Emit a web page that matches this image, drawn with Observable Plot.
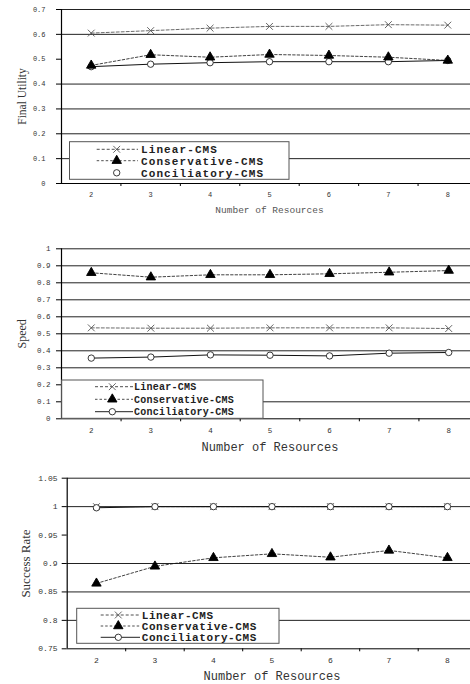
<!DOCTYPE html>
<html>
<head>
<meta charset="utf-8">
<script src="https://cdn.jsdelivr.net/npm/d3@7"></script>
<script src="https://cdn.jsdelivr.net/npm/@observablehq/plot@0.6"></script>
<style>
  html, body { margin: 0; padding: 0; background: #fff; overflow: hidden; }
  #wrap { position: relative; width: 470px; height: 684px; overflow: hidden; background: #fff; }
  .panel { position: absolute; left: 0; }
</style>
</head>
<body>
<div id="wrap"></div>
<script>
// ---- data ----
const resources = [2, 3, 4, 5, 6, 7, 8];
const seriesNames = ["Linear-CMS", "Conservative-CMS", "Conciliatory-CMS"];

const utilityLinear       = [0.605, 0.615, 0.625, 0.632, 0.632, 0.639, 0.637];
const utilityConservative = [0.475, 0.518, 0.508, 0.519, 0.515, 0.508, 0.495];
const utilityConciliatory = [0.470, 0.480, 0.486, 0.490, 0.490, 0.490, 0.495];
const utilityTicks  = [0, 0.1, 0.2, 0.3, 0.4, 0.5, 0.6, 0.7];
const utilityTickLabels = ["0", "0.1", "0.2", "0.3", "0.4", "0.5", "0.6", "0.7"];
const utilityGrid   = [0.1, 0.2, 0.3, 0.4, 0.6, 0.7];

const speedLinear       = [0.535, 0.533, 0.533, 0.535, 0.535, 0.535, 0.531];
const speedConservative = [0.859, 0.833, 0.847, 0.847, 0.853, 0.862, 0.872];
const speedConciliatory = [0.357, 0.363, 0.376, 0.374, 0.370, 0.386, 0.390];
const speedTicks = [0, 0.1, 0.2, 0.3, 0.4, 0.5, 0.6, 0.7, 0.8, 0.9, 1];
const speedTickLabels = ["0", "0.1", "0.2", "0.3", "0.4", "0.5", "0.6", "0.7", "0.8", "0.9", "1"];
const speedGrid  = [0.1, 0.3, 0.4, 0.5, 0.6, 0.7, 0.8, 0.9, 1];

const successLinear       = [1, 1, 1, 1, 1, 1, 1];
const successConservative = [0.865, 0.895, 0.910, 0.917, 0.911, 0.923, 0.910];
const successConciliatory = [0.998, 1, 1, 1, 1, 1, 1];
const successTicks = [0.75, 0.8, 0.85, 0.9, 0.95, 1, 1.05];
const successTickLabels = ["0.75", "0.8", "0.85", "0.9", "0.95", "1", "1.05"];
const successGrid  = [0.8, 0.85, 0.9, 1, 1.05];

const xBounds = [2.5, 3.5, 4.5, 5.5, 6.5, 7.5];
const xTitle = "Number of Resources";

// ---- styling per series ----
const seriesStyle = [
  {symbol: "times",    d3sym: d3.symbolTimes,    r: 3.2, stroke: "#555", fill: "none",  dash: "3,2", width: 0.8},
  {symbol: "triangle", d3sym: d3.symbolTriangle, r: 3.5, stroke: "#000", fill: "#000",  dash: "2.5,2", width: 0.8},
  {symbol: "circle",   d3sym: d3.symbolCircle,   r: 3.2, stroke: "#222", fill: "white", dash: null,  width: 1}
];

function tidy(seriesArrays) {
  const rows = [];
  seriesArrays.forEach((vals, si) => vals.forEach((v, i) => rows.push({x: resources[i], s: seriesNames[si], v})));
  return rows;
}

function makePanel(cfg) {
  const rows = tidy(cfg.series);
  const byS = name => rows.filter(r => r.s === name);
  const [y0, y1] = cfg.yDomain;
  const lineMarks = [];
  const dotMarks = [];
  [0, 2, 1].forEach(si => {
    const st = seriesStyle[si];
    lineMarks.push(Plot.line(byS(seriesNames[si]), {
      x: "x", y: "v", stroke: si === 0 ? "#444" : "#111",
      strokeWidth: st.width, strokeDasharray: st.dash
    }));
    dotMarks.push(Plot.dot(byS(seriesNames[si]), {
      x: "x", y: "v", symbol: () => st.symbol, r: st.r,
      stroke: st.stroke, fill: st.fill, strokeWidth: 0.9
    }));
  });

  const svg = Plot.plot({
    width: 470,
    height: cfg.height,
    marginTop: cfg.marginTop,
    marginBottom: cfg.marginBottom,
    marginLeft: cfg.marginLeft,
    marginRight: 0,
    style: {background: "transparent", fontFamily: "Liberation Mono", color: "#222", overflow: "hidden"},
    x: {type: "linear", domain: [1.5, 8.5], range: cfg.xRange},
    y: {type: "linear", domain: cfg.yDomain},
    marks: [
      Plot.ruleY(cfg.grid, {stroke: "#222", strokeWidth: 1}),
      Plot.ruleY([y0], {stroke: "#000", strokeWidth: 1}),
      Plot.ruleX([1.5], {y1: y0, y2: y1, stroke: "#000", strokeWidth: 1.2}),
      Plot.axisY({
        ticks: cfg.yTicks,
        tickFormat: d => cfg.yTickLabels[cfg.yTicks.indexOf(d)],
        tickSize: 5, tickPadding: cfg.yPad, label: null,
        fontSize: cfg.tickFont, fill: "#333", stroke: "#000"
      }),
      Plot.axisX({
        ticks: resources, tickSize: 0, tickPadding: 8.5, label: null,
        tickFormat: d => String(d), fontSize: cfg.tickFont, fill: "#333"
      }),
      Plot.axisX({
        ticks: xBounds, tickSize: 3, tickPadding: 0, label: null,
        tickFormat: () => "", stroke: "#000"
      }),
      ...lineMarks,
      ...dotMarks,
      Plot.text([cfg.yLabel], {
        frameAnchor: "left", rotate: -90, dx: cfg.yLabelX - cfg.marginLeft,
        textAnchor: "middle", fontFamily: "Liberation Serif", fontSize: cfg.yLabelFont, fill: "#333"
      }),
      Plot.text([xTitle], {
        x: () => 5, frameAnchor: "bottom", dy: cfg.xTitleDy, lineAnchor: "middle",
        fontFamily: "Liberation Mono", fontSize: cfg.xTitleFont, fill: cfg.xTitleColor
      })
    ]
  });

  // legend
  const L = cfg.legend;
  const g = d3.select(svg).append("g").attr("class", "legend").attr("text-anchor", "start");
  g.append("rect")
    .attr("x", L.x0).attr("y", L.y0)
    .attr("width", L.x1 - L.x0).attr("height", L.y1 - L.y0)
    .attr("fill", "white").attr("stroke", "#555").attr("stroke-width", 1);
  seriesNames.forEach((name, i) => {
    const st = seriesStyle[i];
    const ry = L.rows[i];
    if (L.showLine[i]) {
      const ln = g.append("line")
        .attr("x1", L.lx0).attr("x2", L.lx1).attr("y1", ry).attr("y2", ry)
        .attr("stroke", "#222").attr("stroke-width", st.width);
      if (st.dash) ln.attr("stroke-dasharray", st.dash);
    }
    g.append("path")
      .attr("transform", `translate(${L.mx},${ry})`)
      .attr("d", d3.symbol(st.d3sym, st.r * st.r * Math.PI)())
      .attr("fill", st.fill).attr("stroke", st.stroke).attr("stroke-width", 0.9);
    g.append("text")
      .attr("x", L.tx).attr("y", ry).attr("dy", "0.35em")
      .attr("text-anchor", "start")
      .attr("font-family", "Liberation Mono").attr("font-weight", "bold")
      .attr("font-size", L.font).attr("letter-spacing", L.spacing)
      .attr("fill", "#222")
      .text(name);
  });

  const holder = document.createElement("div");
  holder.className = "panel";
  holder.style.top = cfg.top + "px";
  holder.appendChild(svg);
  document.getElementById("wrap").appendChild(holder);
}

makePanel({
  top: 0, height: 216, marginTop: 9, marginBottom: 33, marginLeft: 61,
  xRange: [61, 477], yDomain: [0, 0.7],
  series: [utilityLinear, utilityConservative, utilityConciliatory],
  yTicks: utilityTicks, yTickLabels: utilityTickLabels, grid: utilityGrid,
  yPad: 11, tickFont: 7,
  yLabel: "Final Utility", yLabelX: 22, yLabelFont: 11.5,
  xTitleDy: 26, xTitleFont: 9.5, xTitleColor: "#555",
  legend: {x0: 69.5, x1: 289, y0: 141.7, y1: 179.3, rows: [149.3, 160.7, 172.8],
           lx0: 96.7, lx1: 138, mx: 116.7, tx: 141, font: 11, spacing: 1.1,
           showLine: [true, true, false]}
});

makePanel({
  top: 216, height: 242, marginTop: 32.3, marginBottom: 39.7, marginLeft: 61,
  xRange: [61, 478], yDomain: [0, 1],
  series: [speedLinear, speedConservative, speedConciliatory],
  yTicks: speedTicks, yTickLabels: speedTickLabels, grid: speedGrid,
  yPad: 6, tickFont: 7.5,
  yLabel: "Speed", yLabelX: 22, yLabelFont: 12,
  xTitleDy: 28.7, xTitleFont: 12, xTitleColor: "#333",
  legend: {x0: 61.7, x1: 263, y0: 164, y1: 202.3, rows: [170.7, 183.3, 195.7],
           lx0: 95, lx1: 133, mx: 112.3, tx: 134, font: 10, spacing: 0.25,
           showLine: [true, true, true]}
});

makePanel({
  top: 450, height: 234, marginTop: 27.7, marginBottom: 35.7, marginLeft: 66.7,
  xRange: [66.7, 476.2], yDomain: [0.75, 1.05],
  series: [successLinear, successConservative, successConciliatory],
  yTicks: successTicks, yTickLabels: successTickLabels, grid: successGrid,
  yPad: 4.7, tickFont: 8,
  yLabel: "Success Rate", yLabelX: 25, yLabelFont: 13,
  xTitleDy: 27.7, xTitleFont: 12, xTitleColor: "#333",
  legend: {x0: 76.7, x1: 279, y0: 158.3, y1: 193.3, rows: [165, 176, 187.3],
           lx0: 100.7, lx1: 140, mx: 118.3, tx: 141.7, font: 11, spacing: 0.6,
           showLine: [true, true, true]}
});
</script>
</body>
</html>
